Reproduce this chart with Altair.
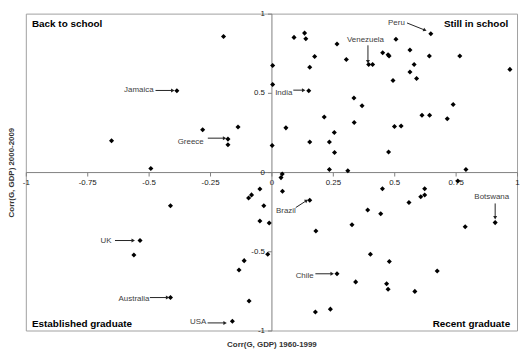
import math
import altair as alt
import pandas as pd

# ---- data ----
x_1960_1999 = [
    -0.651, -0.491, -0.195, -0.385, -0.280, -0.136, -0.177, -0.177,
    0.005, 0.005, 0.003, 0.092, 0.135, 0.140, 0.267, 0.176, 0.305, 0.156,
    0.396, 0.412, 0.453, 0.475, 0.479, 0.507, 0.495, 0.152, 0.336, 0.369,
    0.215, 0.337, 0.059, 0.501, 0.256, 0.156, 0.236, 0.257, 0.477, 0.236,
    0.311, 0.649, 0.564, 0.643, 0.767, 0.581, 0.564, 0.591, 0.971, 0.740,
    0.613, 0.644, 0.716, 0.528, 0.792,
    0.044, 0.039, 0.759,
    -0.535, -0.560, -0.411, -0.411, -0.159, -0.047, -0.081, -0.093, -0.031,
    -0.047, -0.009, -0.015, -0.111, -0.132, -0.091,
    0.045, 0.156, 0.181, 0.452, 0.392, 0.445, 0.328, 0.403, 0.480, 0.267,
    0.343, 0.469, 0.475, 0.179, 0.240, 0.624, 0.608, 0.624, 0.560, 0.789,
    0.911, 0.675, 0.584,
]
y_2000_2009 = [
    0.198, 0.022, 0.855, 0.513, 0.267, 0.285, 0.208, 0.172,
    0.673, 0.553, 0.168, 0.850, 0.877, 0.842, 0.808, 0.729, 0.711, 0.662,
    0.679, 0.679, 0.753, 0.741, 0.733, 0.838, 0.578, 0.513, 0.467, 0.418,
    0.347, 0.313, 0.279, 0.287, 0.250, 0.190, 0.190, 0.123, 0.127, 0.016,
    0.008, 0.873, 0.770, 0.733, 0.733, 0.679, 0.632, 0.590, 0.648, 0.426,
    0.358, 0.358, 0.337, 0.291, 0.016,
    -0.012, -0.035, -0.056,
    -0.432, -0.523, -0.212, -0.792, -0.941, -0.107, -0.144, -0.164, -0.212,
    -0.309, -0.321, -0.519, -0.559, -0.618, -0.814,
    -0.121, -0.178, -0.372, -0.105, -0.240, -0.263, -0.333, -0.519, -0.564, -0.642,
    -0.693, -0.705, -0.739, -0.883, -0.865, -0.105, -0.156, -0.145, -0.192, -0.345,
    -0.319, -0.624, -0.753,
]

tick_values = [-1, -0.75, -0.5, -0.25, 0, 0.25, 0.5, 0.75, 1]

# country labels whose text ends at the arrow (right aligned)
right_names = ["Jamaica", "Greece", "India", "Chile", "UK", "Australia", "USA"]
right_x = [-0.480, -0.276, 0.085, 0.172, -0.651, -0.497, -0.265]
right_y = [0.515, 0.192, 0.499, -0.653, -0.436, -0.800, -0.948]

# country labels centred over / beside their arrow
center_names = ["Venezuela", "Peru", "Brazil", "Botswana"]
center_x = [0.383, 0.509, 0.059, 0.897]
center_y = [0.832, 0.941, -0.247, -0.156]

# arrows (start -> end, in data units)
arrow_x1 = [-0.472, -0.259, 0.089, 0.179, -0.637, -0.495, -0.260, 0.393, 0.552, 0.099, 0.911]
arrow_y1 = [0.515, 0.214, 0.517, -0.642, -0.432, -0.792, -0.952, 0.800, 0.941, -0.224, -0.198]
arrow_x2 = [-0.404, -0.193, 0.129, 0.245, -0.565, -0.425, -0.191, 0.393, 0.623, 0.141, 0.911]
arrow_y2 = [0.515, 0.214, 0.517, -0.642, -0.432, -0.792, -0.952, 0.700, 0.897, -0.182, -0.285]

# quadrant captions
corner_left_names = ["Back to school", "Established graduate"]
corner_left_x = [-0.975, -0.975]
corner_left_y = [0.933, -0.958]
corner_right_names = ["Still in school", "Recent graduate"]
corner_right_x = [0.964, 0.972]
corner_right_y = [0.933, -0.958]

# ---- layout ----
W, H = 496, 320
FONT = "Liberation Sans"

pts = pd.DataFrame({"x": x_1960_1999, "y": y_2000_2009})
arr = pd.DataFrame({"x1": arrow_x1, "y1": arrow_y1, "x2": arrow_x2, "y2": arrow_y2})
arr["angle"] = [
    (math.degrees(math.atan2((b - a) * W / 2, (d - c) * H / 2)) + 360) % 360
    for a, b, c, d in zip(arr.x1, arr.x2, arr.y1, arr.y2)
]
rlab = pd.DataFrame({"name": right_names, "x": right_x, "y": right_y})
clab = pd.DataFrame({"name": center_names, "x": center_x, "y": center_y})
cl = pd.DataFrame({"name": corner_left_names, "x": corner_left_x, "y": corner_left_y})
cr = pd.DataFrame({"name": corner_right_names, "x": corner_right_x, "y": corner_right_y})

xs = alt.Scale(domain=[-1, 1], nice=False, zero=False)
ys = alt.Scale(domain=[-1, 1], nice=False, zero=False)

axis_common = dict(
    values=tick_values,
    labelExpr="'' + datum.value",
    labelFontSize=8,
    labelColor="#222222",
    labelFont=FONT,
    labelFlush=False,
    labelPadding=3,
    tickSize=4,
    tickColor="#7f7f7f",
    domainColor="#7f7f7f",
    grid=False,
    titleFont=FONT,
    titleFontSize=8,
    titleFontWeight="bold",
    titleColor="#333333",
)

x_axis = alt.Axis(
    offset=-H / 2,
    title="Corr(G, GDP) 1960-1999",
    titleX=W / 2,
    titleY=H / 2 + 14,
    titleAlign="center",
    titleBaseline="middle",
    **axis_common,
)
y_axis = alt.Axis(
    offset=-W / 2,
    title="Corr(G, GDP) 2000-2009",
    titleX=-W / 2 - 14,
    titleY=H / 2,
    titleAngle=270,
    titleAlign="center",
    titleBaseline="middle",
    **axis_common,
)

points = alt.Chart(pts).mark_point(
    shape="diamond", filled=True, size=26, color="black", opacity=1
).encode(
    x=alt.X("x:Q", scale=xs, axis=x_axis),
    y=alt.Y("y:Q", scale=ys, axis=y_axis),
)

arrow_lines = alt.Chart(arr).mark_rule(color="#222222", strokeWidth=1).encode(
    x=alt.X("x1:Q", scale=xs), y=alt.Y("y1:Q", scale=ys), x2="x2:Q", y2="y2:Q"
)
arrow_heads = alt.Chart(arr).mark_point(
    shape="triangle", filled=True, size=16, color="#222222", opacity=1
).encode(
    x=alt.X("x2:Q", scale=xs),
    y=alt.Y("y2:Q", scale=ys),
    angle=alt.Angle("angle:Q", scale=None),
)

lab_style = dict(font=FONT, fontSize=8, color="#404040", baseline="middle")
right_text = alt.Chart(rlab).mark_text(align="right", **lab_style).encode(
    x=alt.X("x:Q", scale=xs), y=alt.Y("y:Q", scale=ys), text="name:N"
)
center_text = alt.Chart(clab).mark_text(align="center", **lab_style).encode(
    x=alt.X("x:Q", scale=xs), y=alt.Y("y:Q", scale=ys), text="name:N"
)

corner_style = dict(font=FONT, fontSize=10, fontWeight="bold", color="black", baseline="middle")
corner_l = alt.Chart(cl).mark_text(align="left", **corner_style).encode(
    x=alt.X("x:Q", scale=xs), y=alt.Y("y:Q", scale=ys), text="name:N"
)
corner_r = alt.Chart(cr).mark_text(align="right", **corner_style).encode(
    x=alt.X("x:Q", scale=xs), y=alt.Y("y:Q", scale=ys), text="name:N"
)

chart = (
    alt.layer(points, arrow_lines, arrow_heads, right_text, center_text, corner_l, corner_r)
    .properties(width=W, height=H, padding={"left": 0, "top": 0, "right": 0, "bottom": 0},
                background="white")
    .configure_view(stroke="#a0a0a0", strokeWidth=1)
    .configure_axis(grid=False)
)

chart.save("out.html", embed_options={"renderer": "svg", "actions": False})
